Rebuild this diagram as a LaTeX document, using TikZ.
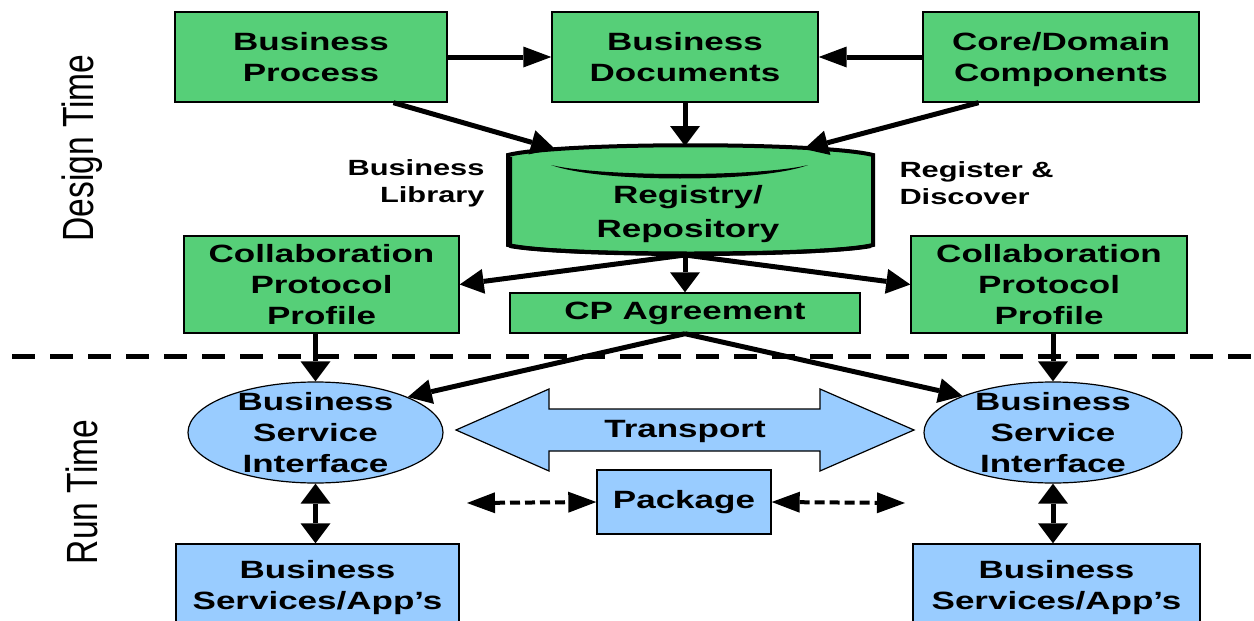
\documentclass[tikz,border=0pt]{standalone}
\usepackage{fontspec}
\setmainfont{Liberation Sans}[FakeStretch=1.4]
\newfontfamily\sidefont{Liberation Sans}
\usepackage{xcolor}
\usepackage{graphicx}
\usepackage{tikz}
\usetikzlibrary{arrows.meta}
\usetikzlibrary{shapes.geometric}

\definecolor{ebgreen}{RGB}{86,207,120}
\definecolor{ebblue}{RGB}{153,204,255}

\tikzset{
	hz/.tip={Triangle[length=14pt,width=10.5pt,line width=0pt]},
	vt/.tip={Triangle[length=10pt,width=15pt,line width=0pt]},
	dg/.tip={Triangle[length=12pt,width=12.5pt,line width=0pt]},
	txt/.style={align=center, inner sep=0pt, font=\bfseries\fontsize{12.5}{15.5}\selectfont},
	gbox/.style={txt, draw, line width=0.7pt, fill=ebgreen},
	bbox/.style={gbox, fill=ebblue},
	svc/.style={ellipse, draw, line width=0.6pt, fill=ebblue, inner sep=0pt},
	lbl/.style={inner sep=0pt, font=\bfseries\fontsize{11}{13.5}\selectfont},
	side/.style={rotate=90, inner sep=0pt, font=\sidefont\fontsize{16.8}{20}\selectfont},
	dots/.style={line width=2pt, dash pattern=on 5pt off 2.5pt, hz-hz},
}

\begin{document}
\begin{tikzpicture}[x=0.5pt, y=-0.5pt, line width=2.5pt]
	\useasboundingbox (0,0) rectangle (1254,621);
	\clip (0,0) rectangle (1254,621);
	\fill[white] (0,0) rectangle (1254,621);

	% design time
	\node (bp) [gbox, minimum width=136pt, minimum height=45pt] at (311,57) {Business\\Process};
	\node (bd) [gbox, minimum width=133pt, minimum height=45pt] at (685,57) {Business\\Documents};
	\node (cdc) [gbox, minimum width=138pt, minimum height=45pt] at (1061,57) {Core/Domain\\Com\smash{p}onents};

	\draw[fill=ebgreen, line width=2pt] (508,155) .. controls (560,142) and (821,142) .. (873,155)
		-- (873,245) .. controls (821,257) and (560,257) .. (508,245) -- cycle;
	\draw[line width=2pt, line join=round] (510,157) -- (510,246) .. controls (560,256) and (821,256) .. (871,246);
	\fill (551,165) .. controls (600,183) and (760,183) .. (808,165)
		.. controls (760,177) and (600,177) .. (551,165) -- cycle;
	\node (reg) [txt, font=\bfseries\fontsize{12.5}{17}\selectfont] at (688,214) {Registry/\\Repository};
	\coordinate (regtop) at (685,146);
	\coordinate (regl) at (555,149);
	\coordinate (regr) at (804,149);
	\coordinate (regbot) at (685,255);

	\node (lib) [lbl, anchor=east, align=right] at (487,183) {Business\\Library};
	\node (disc) [lbl, anchor=west, align=left] at (897,183) {Register \&\\Discover};

	\node (lcpp) [gbox, minimum width=137.5pt, minimum height=48.5pt] at (321.5,284.5) {Collaboration\\Protocol\\Profile};
	\node (rcpp) [gbox, minimum width=138pt, minimum height=48.5pt] at (1049,284.5) {Collaboration\\Protocol\\Profile};
	\node (cpa) [gbox, minimum width=175pt, minimum height=20pt] at (685,313) {CP Agreement};

	\draw[-hz] (bp) -- (bd);
	\draw[-hz] (cdc) -- (bd);
	\draw[-vt] (bd.south) -- (regtop);
	\draw[-dg] (bp.-29) -- (regl);
	\draw[-dg] (cdc.209) -- (regr);
	\draw[-dg] (regbot) -- (lcpp.east);
	\draw[-vt] (regbot) -- (cpa.north);
	\draw[-dg] (regbot) -- (rcpp.west);

	\draw[line width=2.5pt, dash pattern=on 11.5pt off 7.5pt] (12,356) -- (1260,356);

	% run time
	\node (lbsi) [svc, minimum width=127.5pt, minimum height=50.5pt,
		label={[txt]center:{Business\\Service\\Interface}}] at (315.5,432.5) {};
	\node (rbsi) [svc, minimum width=129pt, minimum height=50.5pt,
		label={[txt]center:{Business\\Service\\Interface}}] at (1053,432.5) {};

	\draw[fill=ebblue, line width=0.6pt] (456,430) -- (549,389) -- (549,409) -- (820,409) -- (820,389)
		-- (914,430) -- (820,471) -- (820,451) -- (549,451) -- (549,471) -- cycle;
	\node (tr) [txt] at (685,431) {Transport};

	\node (pkg) [bbox, minimum width=87pt, minimum height=32pt] at (684,502) {Package};
	\coordinate (pl) at (467,503);
	\coordinate (pr) at (905,503);

	\node (lbsa) [bbox, minimum width=141.5pt, minimum height=41pt] at (317.5,585) {Business\\Services/A\smash{pp}’s};
	\node (rbsa) [bbox, minimum width=143.5pt, minimum height=41pt] at (1056.5,585) {Business\\Services/A\smash{pp}’s};

	\draw[-dg] (cpa.south) -- (lbsi.21);
	\draw[-dg] (cpa.south) -- (rbsi.158);
	\draw[-vt] (lbsi.north |- lcpp.south) -- (lbsi.north);
	\draw[-vt] (rbsi.north |- rcpp.south) -- (rbsi.north);
	\draw[vt-vt] (lbsi.south) -- (lbsi.south |- lbsa.north);
	\draw[vt-vt] (rbsi.south) -- (rbsi.south |- rbsa.north);
	\draw[dots] (pl) -- (pkg.west);
	\draw[dots] (pkg.east) -- (pr);

	\node (dt) [side] at (82,148) {\scalebox{1}[1.3]{Design Time}};
	\node (rt) [side] at (82,492) {\scalebox{1}[1.3]{Run Time}};
\end{tikzpicture}
\end{document}
